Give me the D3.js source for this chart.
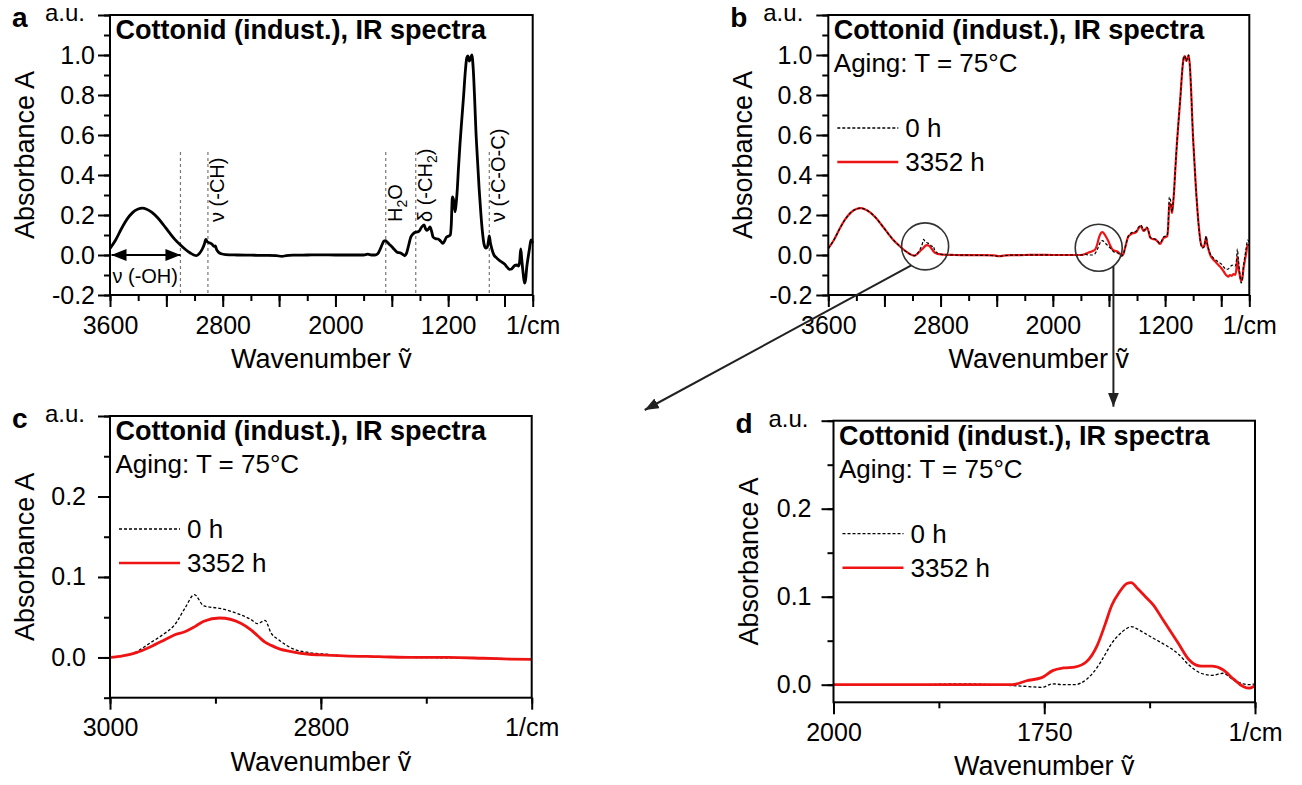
<!DOCTYPE html>
<html>
<head>
<meta charset="utf-8">
<script src="https://cdn.jsdelivr.net/npm/d3@7"></script>
<style>
  body { margin: 0; background: #fff; }
  text { font-family: "Liberation Sans", Arial, sans-serif; fill: #000; }
</style>
</head>
<body>
<div id="chart"></div>
<script>
// ---- data ----
// full spectrum (panels a and b), wavenumber in 1/cm
const fullWn = [3600, 3560, 3520, 3480, 3440, 3400, 3370, 3340, 3300, 3260, 3220, 3180, 3140, 3100, 3060, 3030, 3005,
  2985, 2965, 2945, 2930, 2920, 2910, 2895, 2875, 2860, 2852, 2845, 2830, 2810, 2780, 2700, 2600, 2500, 2420, 2380,
  2350, 2300, 2200, 2100, 2000, 1900, 1800, 1770, 1745, 1720, 1700, 1685, 1670, 1655, 1645, 1635, 1620, 1605, 1590,
  1575, 1560, 1540, 1520, 1508, 1495, 1480, 1465, 1450, 1435, 1420, 1405, 1388, 1371, 1360, 1352, 1340, 1329, 1318,
  1307, 1290, 1272, 1254, 1236, 1222, 1211, 1195, 1185, 1178, 1170, 1160, 1151, 1143, 1135, 1128, 1116, 1104, 1091,
  1078, 1068, 1060, 1050, 1040, 1032, 1022, 1012, 1003, 993, 980, 968, 956, 944, 932, 922, 914, 908, 900, 891, 875,
  860, 840, 820, 800, 780, 765, 750, 738, 725, 712, 700, 692, 685, 678, 668, 658, 650, 642, 632, 622, 612, 600];
const full0h = [0.033, 0.075, 0.13, 0.178, 0.212, 0.23, 0.234, 0.229, 0.212, 0.185, 0.15, 0.113, 0.078, 0.05, 0.025, 0.01, 0.0,
  -0.003, 0.008, 0.03, 0.055, 0.078, 0.066, 0.061, 0.053, 0.043, 0.046, 0.03, 0.014, 0.006, 0.002, 0.0, -0.001, -0.002, -0.003, -0.007,
  -0.003, -0.001, 0.0, 0.001, 0.0, 0.0, 0.0, 0.004, 0.0, 0.0, 0.006, 0.025, 0.05, 0.07, 0.072, 0.066, 0.055, 0.045, 0.034,
  0.022, 0.013, 0.011, 0.002, -0.004, 0.01, 0.05, 0.09, 0.105, 0.113, 0.115, 0.12, 0.14, 0.15, 0.13, 0.123, 0.13, 0.14, 0.12,
  0.09, 0.082, 0.08, 0.07, 0.058, 0.075, 0.09, 0.095, 0.1, 0.15, 0.29, 0.27, 0.216, 0.26, 0.33, 0.42, 0.556, 0.67, 0.79,
  0.92, 0.985, 0.995, 0.97, 0.985, 1.0, 0.93, 0.78, 0.62, 0.49, 0.33, 0.208, 0.11, 0.05, 0.035, 0.04, 0.07, 0.095, 0.06, 0.033, 0.0,
  -0.012, -0.025, -0.035, -0.045, -0.062, -0.072, -0.07, -0.06, -0.052, -0.05, -0.055, -0.03, 0.03, -0.02, -0.09, -0.14, -0.12, -0.06, -0.01, 0.035, 0.075, 0.06];
const full3352h = [0.033, 0.075, 0.13, 0.178, 0.212, 0.23, 0.234, 0.229, 0.212, 0.185, 0.15, 0.113, 0.078, 0.05, 0.025, 0.01, 0.0,
  -0.003, 0.006, 0.02, 0.03, 0.037, 0.045, 0.049, 0.042, 0.028, 0.019, 0.014, 0.008, 0.004, 0.002, 0.0, -0.001, -0.001, -0.002, -0.006,
  -0.003, -0.001, 0.0, 0.001, 0.0, 0.0, 0.0, 0.005, 0.012, 0.019, 0.026, 0.05, 0.09, 0.112, 0.115, 0.107, 0.09, 0.07, 0.046,
  0.027, 0.021, 0.018, 0.004, -0.005, 0.01, 0.05, 0.088, 0.1, 0.108, 0.11, 0.115, 0.135, 0.145, 0.127, 0.12, 0.128, 0.136, 0.118,
  0.088, 0.08, 0.078, 0.068, 0.055, 0.07, 0.085, 0.09, 0.095, 0.14, 0.26, 0.25, 0.21, 0.255, 0.33, 0.42, 0.556, 0.67, 0.79,
  0.92, 0.985, 0.995, 0.97, 0.985, 1.0, 0.93, 0.78, 0.62, 0.49, 0.33, 0.21, 0.115, 0.055, 0.04, 0.045, 0.07, 0.09, 0.055, 0.028, -0.005,
  -0.02, -0.035, -0.05, -0.065, -0.085, -0.1, -0.108, -0.1, -0.104, -0.095, -0.1, -0.07, -0.01, -0.06, -0.1, -0.13, -0.12, -0.07, -0.03, 0.01, 0.05, 0.05];

// zoom on the CH stretching region (panel c)
const wnC = [3000, 2988, 2975, 2962, 2948, 2939, 2929, 2920, 2911, 2896, 2876, 2866, 2860, 2853, 2847, 2840, 2827, 2811,
  2795, 2778, 2745, 2712, 2679, 2646, 2620, 2600];
const c0h = [0.0, 0.002, 0.007, 0.018, 0.03, 0.04, 0.061, 0.078, 0.064, 0.061, 0.053, 0.047, 0.042, 0.046, 0.03, 0.022, 0.011, 0.006,
  0.004, 0.002, 0.001, 0.0, -0.0005, -0.001, -0.0015, -0.002];
const c3352h = [0.0, 0.002, 0.006, 0.013, 0.022, 0.028, 0.032, 0.038, 0.045, 0.049, 0.0425, 0.034, 0.027, 0.019, 0.015, 0.011, 0.007, 0.004,
  0.003, 0.002, 0.001, 0.0, 0.0, -0.001, -0.002, -0.0025];

// zoom on the water / carbonyl region (panel d)
const wnD = [2000, 1950, 1900, 1850, 1810, 1788, 1771, 1753, 1740, 1727, 1714, 1700, 1687, 1678, 1670, 1661, 1652, 1647,
  1639, 1630, 1621, 1608, 1591, 1578, 1564, 1551, 1538, 1525, 1514, 1507, 1500];
const d0h = [0.0, 0.0, 0.0, 0.001, 0.0, -0.001, -0.002, -0.003, 0.001, 0.0, 0.0, 0.006, 0.02, 0.034, 0.047, 0.057, 0.064, 0.066,
  0.063, 0.058, 0.053, 0.046, 0.035, 0.022, 0.013, 0.0106, 0.013, 0.005, 0.001, 0.0, 0.001];
const d3352h = [0.0, 0.0, 0.0, 0.0, 0.0, 0.0, 0.0045, 0.008, 0.016, 0.019, 0.02, 0.026, 0.045, 0.068, 0.09, 0.105, 0.115, 0.116,
  0.109, 0.1, 0.091, 0.072, 0.047, 0.028, 0.021, 0.021, 0.017, 0.006, -0.002, -0.004, -0.001];

// tick labels
const xLabelsFull = [3600, 2800, 2000, 1200];
const xLabelsC = [3000, 2800];
const xLabelsD = [2000, 1750];
const yLabelsFull = [-0.2, 0.0, 0.2, 0.4, 0.6, 0.8, 1.0];
const yLabelsZoom = [0.0, 0.1, 0.2];

// band assignments in panel a
const bandWn = [3100, 2905, 1643, 1430, 908];
const bandText = [null, [["ν (-CH)", 0]], [["H", 0], ["2", 1], ["O", 0]], [["δ (-CH", 0], ["2", 1], [")", 0]], [["ν (-C-O-C)", 0]]];
const ohRange = [3600, 3100];

const seriesNames = ["0 h", "3352 h"];
const titleText = "Cottonid (indust.), IR spectra";
const agingText = "Aging: T = 75°C";
const circled = [[2910, 0.043], [1673, 0.036]];

const RED = "#ee1414";
const FONT_TICK = 25;

const svg = d3.select("#chart").append("svg")
  .attr("width", 1302)
  .attr("height", 785);

const defs = svg.append("defs");
defs.append("marker")
  .attr("id", "head")
  .attr("viewBox", "0 0 15 12")
  .attr("refX", 15).attr("refY", 6)
  .attr("markerWidth", 15).attr("markerHeight", 12)
  .attr("markerUnits", "userSpaceOnUse")
  .attr("orient", "auto-start-reverse")
  .append("path").attr("d", "M0,0L15,6L0,12Z").attr("fill", "#000");
defs.append("marker")
  .attr("id", "head2")
  .attr("viewBox", "0 0 14 11")
  .attr("refX", 14).attr("refY", 5.5)
  .attr("markerWidth", 14).attr("markerHeight", 11)
  .attr("markerUnits", "userSpaceOnUse")
  .attr("orient", "auto")
  .append("path").attr("d", "M0,0L14,5.5L0,11Z").attr("fill", "#222");

function steps(a, b, s) {
  const n = Math.round(Math.abs(b - a) / Math.abs(s));
  return d3.range(n + 1).map(i => +(a + i * s).toFixed(6));
}

function panel(p) {
  const x = d3.scaleLinear().domain(p.xDomain).range([p.left, p.left + p.width]);
  const y = d3.scaleLinear().domain(p.yDomain).range([p.top + p.height, p.top]);
  const g = svg.append("g");
  const bottom = p.top + p.height;

  // minor + major ticks, bottom
  g.append("g").attr("transform", `translate(0,${bottom})`)
    .call(d3.axisBottom(x).tickValues(p.xMinor).tickSize(6).tickFormat(""));
  g.append("g").attr("transform", `translate(0,${bottom})`)
    .call(d3.axisBottom(x).tickValues(p.xMajor).tickSize(12).tickPadding(9)
      .tickFormat(d => d === p.xDomain[1] ? "1/cm" : (p.xLabels.includes(d) ? d : "")));
  // left
  g.append("g").attr("transform", `translate(${p.left},0)`)
    .call(d3.axisLeft(y).tickValues(p.yMinor).tickSize(6).tickFormat(""));
  g.append("g").attr("transform", `translate(${p.left},0)`)
    .call(d3.axisLeft(y).tickValues(p.yMajor).tickSize(12).tickPadding(p.yPad)
      .tickFormat(d => p.yLabels.some(v => Math.abs(v - d) < 1e-6) ? d.toFixed(1) : ""));

  g.selectAll(".domain").remove();
  g.selectAll(".tick line").attr("stroke", "#000").attr("stroke-width", 2);
  g.selectAll(".tick text").attr("font-size", FONT_TICK).attr("font-family", null).attr("fill", "#000");

  // axis titles
  g.append("text")
    .attr("x", p.left + p.width / 2).attr("y", bottom + 73)
    .attr("text-anchor", "middle").attr("font-size", 27)
    .text("Wavenumber ṽ");
  g.append("text")
    .attr("transform", `translate(${p.left - 76},${p.top + p.height / 2}) rotate(-90)`)
    .attr("text-anchor", "middle").attr("font-size", 27)
    .text("Absorbance A");
  g.append("text")
    .attr("x", p.left - 25).attr("y", p.top + 6)
    .attr("text-anchor", "end").attr("font-size", 24)
    .text("a.u.");
  g.append("text")
    .attr("x", p.left - 98).attr("y", p.top + 12)
    .attr("font-size", 28).attr("font-weight", "bold")
    .text(p.letter);

  // title lines
  g.append("text")
    .attr("x", p.left + 5.5).attr("y", p.top + 24)
    .attr("font-size", 27).attr("font-weight", "bold")
    .text(titleText);
  if (p.aging) {
    g.append("text")
      .attr("x", p.left + 5.5).attr("y", p.top + 57)
      .attr("font-size", 26)
      .text(agingText);
  }

  const plot = g.append("g");
  const frame = () => g.append("rect")
    .attr("x", p.left).attr("y", p.top)
    .attr("width", p.width).attr("height", p.height)
    .attr("fill", "none").attr("stroke", "#000").attr("stroke-width", 2);

  return {x, y, g, plot, frame, p};
}

function curve(P, wn, vals, color, width, dash) {
  const pts = wn.map((w, i) => [w, vals[i]]);
  P.plot.append("path").datum(pts)
    .attr("fill", "none")
    .attr("stroke", color)
    .attr("stroke-width", width)
    .attr("stroke-dasharray", dash || null)
    .attr("stroke-linejoin", "round")
    .attr("d", d3.line().x(d => P.x(d[0])).y(d => P.y(d[1])).curve(d3.curveMonotoneX));
}

function legend(P) {
  const p = P.p;
  const rows = [
    {name: seriesNames[0], color: "#000", width: 1.3, dash: "3,2", dy: 113},
    {name: seriesNames[1], color: RED, width: 2.6, dash: null, dy: 147}
  ];
  rows.forEach(r => {
    P.g.append("line")
      .attr("x1", p.left + 9).attr("x2", p.left + 70)
      .attr("y1", p.top + r.dy).attr("y2", p.top + r.dy)
      .attr("stroke", r.color).attr("stroke-width", r.width)
      .attr("stroke-dasharray", r.dash);
    P.g.append("text")
      .attr("x", p.left + 77).attr("y", p.top + r.dy + 9)
      .attr("font-size", 26)
      .text(r.name);
  });
}

// ---- panel a ----
const A = panel({
  letter: "a", left: 110, top: 15, width: 422.7, height: 280, yPad: 3,
  xDomain: [3600, 600], yDomain: [-0.2, 1.2],
  xMajor: steps(3600, 800, -400).concat([600]), xMinor: steps(3600, 600, -200), xLabels: xLabelsFull,
  yMajor: steps(-0.2, 1.2, 0.2), yMinor: steps(-0.2, 1.2, 0.1), yLabels: yLabelsFull
});
// band markers
bandWn.forEach((w, i) => {
  A.plot.append("line")
    .attr("x1", A.x(w)).attr("x2", A.x(w))
    .attr("y1", A.y(0.515)).attr("y2", A.y(-0.2))
    .attr("stroke", "#777").attr("stroke-width", 1.2)
    .attr("stroke-dasharray", "3,3");
  if (!bandText[i]) return;
  const t = A.plot.append("text")
    .attr("transform", `translate(${A.x(w) + 16},${A.y(0.165)}) rotate(-90)`)
    .attr("font-size", 20);
  bandText[i].forEach(([s, sub], k) => {
    const prevSub = k > 0 && bandText[i][k - 1][1];
    t.append("tspan")
      .attr("dy", sub ? 5 : (prevSub ? -5 : 0))
      .attr("font-size", sub ? 14 : null)
      .text(s);
  });
});
curve(A, fullWn, full0h, "#000", 2.8);
A.plot.append("line")
  .attr("x1", A.x(ohRange[0]) + 1.5).attr("x2", A.x(ohRange[1]))
  .attr("y1", A.y(0)).attr("y2", A.y(0))
  .attr("stroke", "#000").attr("stroke-width", 2)
  .attr("marker-start", "url(#head)").attr("marker-end", "url(#head)");
A.plot.append("text")
  .attr("x", (A.x(ohRange[0]) + A.x(ohRange[1])) / 2).attr("y", A.y(0) + 28)
  .attr("text-anchor", "middle").attr("font-size", 20)
  .text("ν (-OH)");
A.frame();

// ---- panel b ----
const B = panel({
  letter: "b", left: 828.3, top: 15, width: 421, height: 280, aging: true, yPad: 4,
  xDomain: [3600, 600], yDomain: [-0.2, 1.2],
  xMajor: steps(3600, 800, -400).concat([600]), xMinor: steps(3600, 600, -200), xLabels: xLabelsFull,
  yMajor: steps(-0.2, 1.2, 0.2), yMinor: steps(-0.2, 1.2, 0.1), yLabels: yLabelsFull
});
curve(B, fullWn, full3352h, RED, 2.2);
curve(B, fullWn, full0h, "#000", 1.2, "3,2");
legend(B);
B.frame();

// ---- panel c ----
const C = panel({
  letter: "c", left: 110, top: 416, width: 421.7, height: 281.7, aging: true, yPad: 12,
  xDomain: [3000, 2600], yDomain: [-0.05, 0.3],
  xMajor: [3000, 2800, 2600], xMinor: steps(3000, 2600, -100), xLabels: xLabelsC,
  yMajor: [0.0, 0.1, 0.2, 0.3], yMinor: steps(-0.05, 0.3, 0.05), yLabels: yLabelsZoom
});
curve(C, wnC, c0h, "#000", 1.3, "3,2");
curve(C, wnC, c3352h, RED, 2.8);
legend(C);
C.frame();

// ---- panel d ----
const D = panel({
  letter: "d", left: 833.5, top: 420.7, width: 421.5, height: 281.6, aging: true, yPad: 10,
  xDomain: [2000, 1500], yDomain: [-0.02, 0.3],
  xMajor: [2000, 1750, 1500], xMinor: steps(2000, 1500, -125), xLabels: xLabelsD,
  yMajor: [0.0, 0.1, 0.2, 0.3], yMinor: steps(0.0, 0.3, 0.05), yLabels: yLabelsZoom
});
curve(D, wnD, d0h, "#000", 1.3, "3,2");
curve(D, wnD, d3352h, RED, 2.8);
legend(D);
D.frame();

// ---- zoom circles and connector arrows ----
const R = 23.5;
const circ = circled.map(([w, a]) => [B.x(w), B.y(a)]);
circ.forEach(([cx, cy]) => {
  svg.append("circle").attr("cx", cx).attr("cy", cy).attr("r", R)
    .attr("fill", "none").attr("stroke", "#333").attr("stroke-width", 1.6);
});
// to panel c
svg.append("line")
  .attr("x1", circ[0][0] - R * 0.59).attr("y1", circ[0][1] + R * 0.81)
  .attr("x2", C.p.left + C.p.width + 113).attr("y2", C.p.top - 6)
  .attr("stroke", "#222").attr("stroke-width", 2)
  .attr("marker-end", "url(#head2)");
// to panel d
const vx = circ[1][0] + 14.7;
svg.append("line")
  .attr("x1", vx).attr("y1", circ[1][1] + Math.sqrt(R * R - 14.7 * 14.7))
  .attr("x2", vx).attr("y2", D.p.top - 14)
  .attr("stroke", "#222").attr("stroke-width", 2)
  .attr("marker-end", "url(#head2)");
</script>
</body>
</html>
